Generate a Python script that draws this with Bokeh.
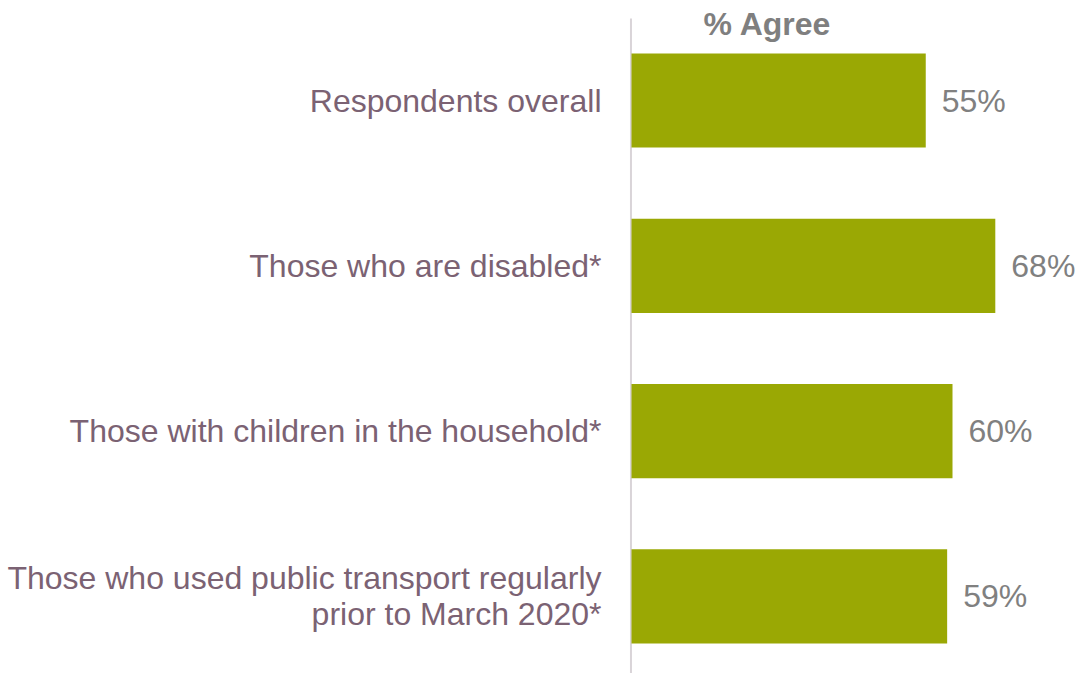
from bokeh.plotting import figure
from bokeh.models import ColumnDataSource, Range1d
from bokeh.core.properties import value
from bokeh.embed import file_html
from bokeh.resources import INLINE

categories = [
    "Respondents overall",
    "Those who are disabled*",
    "Those with children in the household*",
    "Those who used public transport regularly\nprior to March 2020*",
]
agree = [55, 68, 60, 59]
value_labels = ["55%", "68%", "60%", "59%"]
title_text = "% Agree"

pos = list(range(len(categories)))

src = ColumnDataSource(dict(y=pos, v=agree, cat=categories, lab=value_labels,
                            zero=[0] * len(pos)))

W, H = 1079, 673
px_per_unit_x = 5.35
x0_px = 631
px_per_unit_y = 165.3
y0_px = 100

p = figure(width=W, height=H, output_backend="svg", toolbar_location=None,
           x_range=Range1d(-x0_px / px_per_unit_x, (W - x0_px) / px_per_unit_x),
           y_range=Range1d((H - y0_px) / px_per_unit_y, -y0_px / px_per_unit_y),
           min_border=0, outline_line_color=None)
p.axis.visible = False
p.grid.visible = False
p.background_fill_color = "white"
p.border_fill_color = "white"

# vertical axis line
p.segment(x0=[-0.1], y0=[(18 - 100) / px_per_unit_y], x1=[-0.1], y1=[10],
          line_color="#d9d4d8", line_width=2)

p.hbar(y="y", left=0, right="v", height=0.57, source=src,
       fill_color="#9aa804", line_color=None)

p.text(x="zero", y="y", text="cat", source=src, x_offset=-30,
       text_align="right", text_baseline="middle",
       text_font=value("Liberation Sans"), text_font_size="32px",
       text_color="#7b6273", text_line_height=1.0)

p.text(x="v", y="y", text="lab", source=src, x_offset=16,
       text_align="left", text_baseline="middle",
       text_font=value("Liberation Sans"), text_font_size="32px",
       text_color="#808080")

p.text(x=[(767 - 631) / px_per_unit_x], y=[(23 - 100) / px_per_unit_y], text=[title_text],
       text_align="center", text_baseline="middle",
       text_font=value("Liberation Sans"), text_font_size="32px",
       text_font_style="bold", text_color="#7f7f7f")

open("out.html", "w").write(file_html(p, INLINE))
